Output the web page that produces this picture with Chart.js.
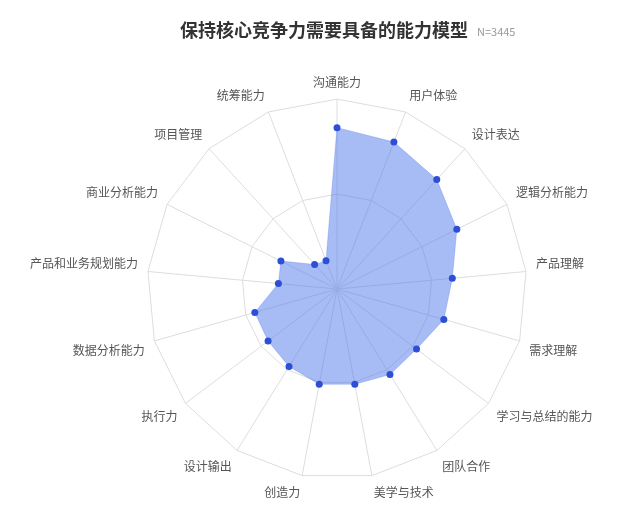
<!DOCTYPE html>
<html>
<head>
<meta charset="utf-8">
<script src="https://cdn.jsdelivr.net/npm/chart.js@4/dist/chart.umd.min.js"></script>
<style>
  html, body { margin: 0; padding: 0; background: #fff; }
  #wrap { position: relative; width: 644px; height: 524px; }
</style>
</head>
<body>
<div id="wrap"><canvas id="radar" width="644" height="524"></canvas></div>
<script>
// 能力维度
const abilities = ['沟通能力', '用户体验', '设计表达', '逻辑分析能力', '产品理解', '需求理解',
    '学习与总结的能力', '团队合作', '美学与技术', '创造力', '设计输出', '执行力',
    '数据分析能力', '产品和业务规划能力', '商业分析能力', '项目管理', '统筹能力'];
// 各能力占比 (%)
const shares = [85, 83, 78, 70.5, 61, 58.5, 52.5, 53, 51, 51, 48, 45.5, 45, 31, 33, 17.5, 16];
const scaleMax = 100;
const scaleStep = 50;
const chartTitle = '保持核心竞争力需要具备的能力模型';
const sampleNote = 'N=3445';

// 标题和样本量画在画布上
const titlePlugin = {
    id: 'titleText',
    afterDraw(chart) {
        const ctx = chart.ctx;
        ctx.save();
        ctx.textBaseline = 'middle';
        ctx.fillStyle = '#333';
        ctx.font = 'bold 18px "Noto Sans CJK SC", sans-serif';
        const w = ctx.measureText(chartTitle).width;
        const x0 = 180;
        ctx.fillText(chartTitle, x0, 30);
        ctx.fillStyle = '#999';
        ctx.font = '11px "Noto Sans CJK SC", sans-serif';
        ctx.fillText(sampleNote, x0 + w + 9, 32);
        ctx.restore();
    }
};

const ctx = document.getElementById('radar').getContext('2d');
new Chart(ctx, {
    type: 'radar',
    data: {
        labels: abilities,
        datasets: [{
            data: shares,
            backgroundColor: 'rgba(80, 120, 235, 0.5)',
            borderColor: 'rgba(80, 120, 235, 0.3)',
            borderWidth: 1,
            pointRadius: 3.5,
            pointBackgroundColor: '#2d4fd6',
            pointBorderWidth: 0
        }]
    },
    options: {
        responsive: false,
        animation: false,
        layout: { padding: { top: 56, bottom: 4, left: 9, right: 21 } },
        plugins: { legend: { display: false }, tooltip: { enabled: false } },
        scales: {
            r: {
                min: 0,
                max: scaleMax,
                ticks: { display: false, stepSize: scaleStep },
                grid: { color: '#ddd', lineWidth: 1 },
                angleLines: { color: '#ddd', lineWidth: 1 },
                pointLabels: {
                    color: '#555',
                    padding: 10,
                    font: { size: 12, family: '"Noto Sans CJK SC", sans-serif' }
                }
            }
        }
    },
    plugins: [titlePlugin]
});
</script>
</body>
</html>
